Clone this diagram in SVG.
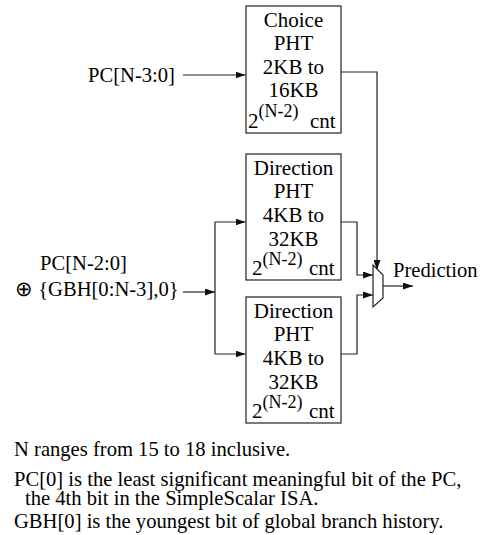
<svg xmlns="http://www.w3.org/2000/svg" width="487" height="535" viewBox="0 0 487 535">
<style>
text{font-family:"Liberation Serif","Times New Roman",serif;font-size:20.6px;fill:#000}
.b{font-size:21px}
.c{text-anchor:middle}
.sup{font-size:18px}
.box{fill:#fff;stroke:#222;stroke-width:1.2}
.ln{fill:none;stroke:#222;stroke-width:1.2}
</style>
<defs>
<marker id="ah" markerWidth="10" markerHeight="7" refX="10" refY="3.5" orient="auto" markerUnits="userSpaceOnUse"><path d="M0,0 L10,3.5 L0,7 z" fill="#111"/></marker>
</defs>
<rect width="487" height="535" fill="#fff"/>
<g id="connectors">
<path class="ln" d="M183,75 H245.5" marker-end="url(#ah)"/>
<path class="ln" d="M341,72 H377 V270" marker-end="url(#ah)"/>
<path class="ln" d="M183,292 H215" marker-end="url(#ah)"/>
<path class="ln" d="M215,292 V222 H245.5" marker-end="url(#ah)"/>
<path class="ln" d="M215,292 V354 H245.5" marker-end="url(#ah)"/>
<path class="ln" d="M341,222 H357 V275 H373" marker-end="url(#ah)"/>
<path class="ln" d="M341,354 H357 V295 H373" marker-end="url(#ah)"/>
<path class="ln" d="M383,286 H413" marker-end="url(#ah)"/>
</g>
<g id="choice">
<rect class="box" x="246" y="6" width="95" height="127"/>
<text class="b c" x="293.5" y="27">Choice</text>
<text class="b c" x="293.5" y="50">PHT</text>
<text class="b c" x="293.5" y="74">2KB to</text>
<text class="b c" x="293.5" y="97">16KB</text>
<text class="b" x="248" y="128">2<tspan class="sup" dy="-11">(N-2)</tspan><tspan x="310" dy="11">cnt</tspan></text>
</g>
<g id="dir1">
<rect class="box" x="246" y="154" width="95" height="126"/>
<text class="b c" x="293.5" y="175">Direction</text>
<text class="b c" x="293.5" y="198">PHT</text>
<text class="b c" x="293.5" y="222">4KB to</text>
<text class="b c" x="293.5" y="246">32KB</text>
<text class="b" x="252" y="275">2<tspan class="sup" dy="-10">(N-2)</tspan><tspan x="309" dy="10">cnt</tspan></text>
</g>
<g id="dir2">
<rect class="box" x="246" y="297" width="95" height="126"/>
<text class="b c" x="293.5" y="318">Direction</text>
<text class="b c" x="293.5" y="341">PHT</text>
<text class="b c" x="293.5" y="365">4KB to</text>
<text class="b c" x="293.5" y="389">32KB</text>
<text class="b" x="252" y="418">2<tspan class="sup" dy="-10">(N-2)</tspan><tspan x="309" dy="10">cnt</tspan></text>
</g>
<g id="mux">
<polygon class="box" points="373,265 383,275 383,298 373,307"/>
</g>
<g id="labels">
<text x="88" y="81.5">PC[N-3:0]</text>
<text x="40" y="270">PC[N-2:0]</text>
<text x="15" y="296">⊕ {GBH[0:N-3],0}</text>
<text x="393" y="277">Prediction</text>
</g>
<g id="notes">
<text x="14" y="456">N ranges from 15 to 18 inclusive.</text>
<text x="14" y="486">PC[0] is the least significant meaningful bit of the PC,</text>
<text x="25" y="505">the 4th bit in the SimpleScalar ISA.</text>
<text x="14" y="528">GBH[0] is the youngest bit of  global branch history.</text>
</g>
</svg>
